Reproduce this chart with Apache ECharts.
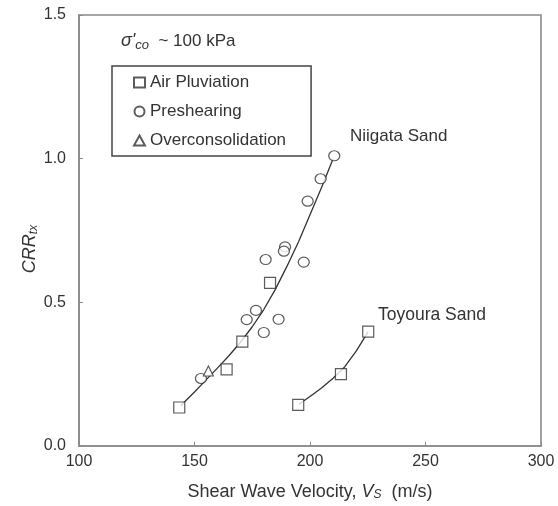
<!DOCTYPE html>
<html><head><meta charset="utf-8">
<script src="https://cdn.jsdelivr.net/npm/echarts@6/dist/echarts.min.js"></script>
<style>html,body{margin:0;padding:0;background:#fff}#c{width:558px;height:506px}</style>
</head><body><div id="c"></div>
<script>
// Data
const airPluviation = [[143.4,0.134],[163.9,0.267],[170.7,0.363],[182.7,0.568],[194.9,0.143],[213.4,0.25],[225.2,0.398]];
const preshearing = [[210.5,1.01],[204.6,0.93],[199.0,0.852],[189.2,0.693],[188.7,0.678],[180.8,0.649],[197.3,0.64],[176.6,0.472],[172.6,0.44],[186.4,0.441],[180.0,0.395],[152.8,0.235]];
const overconsolidation = [[156.0,0.261]];
const niigataFit = [[144,0.14],[150,0.188],[155,0.23],[160,0.272],[165,0.315],[170,0.362],[175,0.415],[180,0.475],[185,0.545],[190,0.625],[195,0.71],[200,0.805],[205,0.9],[210,1.0]];
const toyouraFit = [[195.2,0.145],[200,0.172],[205,0.202],[210,0.236],[215,0.275],[220,0.33],[225.2,0.398]];
const xTicks = [100,150,200,250,300];
const yTicks = [0,0.5,1.0,1.5];

const chart = echarts.init(document.getElementById('c'));
const F = 'Liberation Sans, Arial, sans-serif';
const hollow = {color:'#fff', borderColor:'#333', borderWidth:1.2};
chart.setOption({
  animation:false,
  textStyle:{fontFamily:F},
  grid:{left:79,right:17,top:15,bottom:59,show:true,borderColor:'#8a8a8a',borderWidth:1.6},
  xAxis:{type:'value',min:xTicks[0],max:xTicks[xTicks.length-1],interval:50,
    axisLine:{lineStyle:{color:'#8a8a8a',width:1.6}},
    axisTick:{inside:true,length:4,lineStyle:{color:'#8a8a8a'}},
    splitLine:{show:false},
    axisLabel:{color:'#333',fontSize:16,fontFamily:F,margin:8},
    name:'Shear Wave Velocity, {i|V}{s|S}  (m/s)',nameLocation:'middle',nameGap:37,
    nameTextStyle:{color:'#333',fontSize:18,fontFamily:F,rich:{i:{fontStyle:'italic',fontSize:18,color:'#333'},s:{fontStyle:'italic',fontSize:12,color:'#333',padding:[0,0,-5,0]}}}},
  yAxis:{type:'value',min:yTicks[0],max:yTicks[yTicks.length-1],interval:0.5,
    axisLine:{lineStyle:{color:'#8a8a8a',width:1.6}},
    axisTick:{inside:true,length:4,lineStyle:{color:'#8a8a8a'}},
    splitLine:{show:false},
    axisLabel:{color:'#333',fontSize:16,fontFamily:F,margin:13,formatter:v=>v.toFixed(1)}},
  legend:{orient:'vertical',left:112,top:66,
    data:['Air Pluviation','Preshearing','Overconsolidation'],
    borderColor:'#444',borderWidth:1.5,padding:[8,25,7,21],itemGap:12,itemWidth:11,itemHeight:10,
    textStyle:{fontSize:17,color:'#333',fontFamily:F}},
  graphic:[
    {type:'text',left:121,top:32,style:{text:'{a|σ\'}{b|co}{c|  ~ 100 kPa}',rich:{a:{fontStyle:'italic',fontSize:18,fill:'#333'},b:{fontStyle:'italic',fontSize:13,fill:'#333',padding:[0,0,-8,0]},c:{fontSize:17,fill:'#333'}}}},
    {type:'text',left:350,top:128,style:{text:'Niigata Sand',fontSize:17,fill:'#333',fontFamily:F}},
    {type:'text',left:378,top:306,style:{text:'Toyoura Sand',fontSize:17.5,fill:'#333',fontFamily:F}},
    {type:'text',x:30,y:249,rotation:Math.PI/2,style:{text:'{i|CRR}{s|tx}',align:'center',verticalAlign:'middle',rich:{i:{fontStyle:'italic',fontSize:18,fill:'#333'},s:{fontStyle:'italic',fontSize:12,fill:'#333',padding:[0,0,-7,0]}}}}
  ],
  series:[
    {type:'line',data:niigataFit,smooth:false,showSymbol:false,symbol:'none',lineStyle:{color:'#333',width:1.3,join:'round'},z:1,silent:true},
    {type:'line',data:toyouraFit,smooth:false,showSymbol:false,symbol:'none',lineStyle:{color:'#333',width:1.3,join:'round'},z:1,silent:true},
    {name:'Air Pluviation',type:'scatter',data:airPluviation,symbol:'rect',symbolSize:11,itemStyle:hollow,z:3},
    {name:'Preshearing',type:'scatter',data:preshearing,symbol:'circle',symbolSize:[11,10],itemStyle:hollow,z:3},
    {name:'Overconsolidation',type:'scatter',data:overconsolidation,symbol:'triangle',symbolSize:10,itemStyle:hollow,z:3}
  ]
});
</script></body></html>
